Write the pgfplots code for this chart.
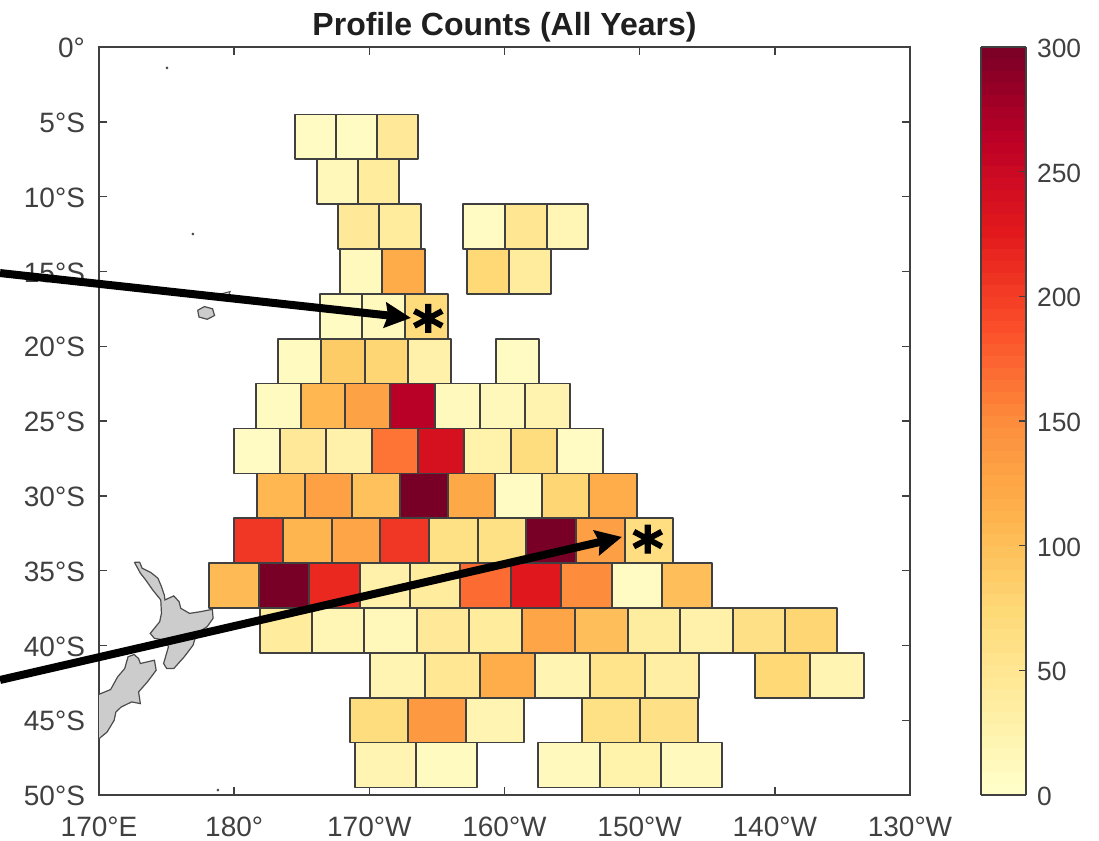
\documentclass[border=0pt]{standalone}
\usepackage{fontspec}
\setmainfont{Liberation Sans}
\newfontfamily\astfont[FakeBold=2]{DejaVu Sans Bold}
\usepackage{pgfplots}
\pgfplotsset{compat=1.18}
\usetikzlibrary{arrows.meta}
\definecolor{axgray}{HTML}{404040}
\pgfplotsset{/pgf/number format/assume math mode=true}
\pgfplotsset{cell/.style={patch,patch type=rectangle,shader=faceted,faceted color=black!75,line width=0.8pt,point meta=explicit,forget plot}}
\newcommand\R[5]{\addplot[cell] coordinates {(#1,#3)[#5] (#2,#3)[#5] (#2,#4)[#5] (#1,#4)[#5]};}
\begin{document}
\begin{tikzpicture}
\useasboundingbox (-49.5pt,-23pt) rectangle (500pt,397.5pt);
\begin{axis}[
  at={(0,0)},anchor=south west,
  scale only axis,width=405.5pt,height=374pt,
  xmin=170,xmax=230,ymin=-50,ymax=0,
  clip=false,
  axis line style={axgray,line width=0.8pt},
  tick align=inside,
  major tick length=4pt,
  tick style={axgray,line width=0.7pt},
  xtick={170,180,190,200,210,220,230},
  xticklabels={170°E,180°,170°W,160°W,150°W,140°W,130°W},
  ytick={0,-5,-10,-15,-20,-25,-30,-35,-40,-45,-50},
  yticklabels={0°,5°S,10°S,15°S,20°S,25°S,30°S,35°S,40°S,45°S,50°S},
  tick label style={font=\fontsize{14}{16}\selectfont,text=axgray},
  xticklabel style={yshift=-7.5pt},
  yticklabel style={xshift=-3.5pt,yshift=-0.5pt},
  title={\bfseries Profile Counts (All Years)},
  title style={font=\fontsize{16}{18}\selectfont,text=black!88,yshift=-7pt},
  point meta min=0,point meta max=300,
  colormap={ylorrd}{
    rgb255=(255,255,204) rgb255=(255,237,160) rgb255=(254,217,118) rgb255=(254,178,76) rgb255=(253,141,60) rgb255=(252,78,42) rgb255=(227,26,28) rgb255=(189,0,38) rgb255=(120,0,38)
  },
  colorbar sampled,
  colorbar style={
    samples=64,
    at={(parent axis.north east)},anchor=north west,xshift=27pt,
    scale only axis,
    width=22.5pt,
    ytick={0,50,100,150,200,250,300},
    ytick pos=right,
    yticklabel pos=right,
    axis line style={axgray,line width=0.8pt},
    tick align=inside,major tick length=3.5pt,
    tick style={axgray,line width=0.7pt},
    yticklabel style={font=\fontsize{13.2}{16}\selectfont,text=axgray,xshift=2pt,yshift=-0.7pt},
  },
]
% land
\addplot[fill=black!20,draw=black!70,line width=0.6pt,forget plot] coordinates {(172.62,-34.44)(173.01,-34.44)(173.19,-34.84)(173.84,-35.13)(174.36,-35.51)(174.62,-36.07)(174.83,-36.63)(174.88,-36.96)(175.53,-36.69)(175.92,-37.07)(176.05,-37.52)(176.70,-37.86)(177.48,-37.75)(178.39,-37.59)(178.44,-38.19)(178.0,-38.75)(177.22,-39.20)(176.96,-39.98)(176.31,-40.76)(175.53,-41.55)(175.01,-41.55)(174.78,-41.21)(175.14,-40.09)(174.88,-39.65)(174.10,-39.53)(173.79,-39.20)(174.49,-38.42)(174.62,-37.86)(174.57,-36.96)(173.97,-36.29)(173.45,-35.62)(173.06,-35.17)(172.62,-34.44)};
\addplot[fill=black!20,draw=black!70,line width=0.6pt,forget plot] coordinates {(170,-43.27)(170.86,-42.95)(171.38,-42.10)(171.90,-41.55)(172.15,-40.76)(172.60,-40.61)(172.93,-40.88)(173.06,-41.21)(173.58,-41.10)(174.10,-40.99)(174.23,-41.66)(173.58,-42.44)(172.93,-43.11)(173.06,-43.89)(172.41,-43.78)(171.64,-44.12)(171.25,-44.45)(171.12,-45.01)(170.60,-45.79)(170,-46.24)};
\addplot[fill=black!20,draw=black!70,line width=0.6pt,forget plot] coordinates {(177.3,-17.6)(177.8,-17.35)(178.4,-17.5)(178.55,-17.95)(178.0,-18.2)(177.4,-18.05)(177.3,-17.6)};
\addplot[draw=black!70,line width=0.5pt,forget plot] coordinates {(178.6,-16.6)(179.7,-16.35)(179.6,-16.55)};
\addplot[only marks,mark=*,mark size=0.45pt,black!70,forget plot] coordinates {(175.03,-1.4)(176.95,-12.5)(178.8,-49.67)};
% cells: lon0 lon1 lat0 lat1 count
\R{184.50}{187.53}{-4.5}{-7.5}{8}\R{187.53}{190.57}{-4.5}{-7.5}{8}\R{190.57}{193.60}{-4.5}{-7.5}{45}
\R{186.13}{189.16}{-7.5}{-10.5}{15}\R{189.16}{192.19}{-7.5}{-10.5}{40}
\R{187.68}{190.71}{-10.5}{-13.5}{45}\R{190.71}{193.82}{-10.5}{-13.5}{40}
\R{196.93}{200.04}{-10.5}{-13.5}{8}\R{200.04}{203.14}{-10.5}{-13.5}{50}\R{203.14}{206.18}{-10.5}{-13.5}{20}
\R{187.83}{190.94}{-13.5}{-16.5}{12}\R{190.94}{194.12}{-13.5}{-16.5}{120}
\R{197.23}{200.33}{-13.5}{-16.5}{75}\R{200.33}{203.44}{-13.5}{-16.5}{40}
\R{186.35}{189.46}{-16.5}{-19.5}{8}\R{189.46}{192.64}{-16.5}{-19.5}{12}\R{192.64}{195.82}{-16.5}{-19.5}{70}
\R{183.24}{186.42}{-19.5}{-22.5}{10}\R{186.42}{189.68}{-19.5}{-22.5}{88}\R{189.68}{192.86}{-19.5}{-22.5}{78}\R{192.86}{196.04}{-19.5}{-22.5}{30}
\R{199.37}{202.55}{-19.5}{-22.5}{8}
\R{181.61}{184.94}{-22.5}{-25.5}{10}\R{184.94}{188.20}{-22.5}{-25.5}{108}\R{188.20}{191.53}{-22.5}{-25.5}{128}\R{191.53}{194.86}{-22.5}{-25.5}{265}\R{194.86}{198.19}{-22.5}{-25.5}{12}\R{198.19}{201.52}{-22.5}{-25.5}{15}\R{201.52}{204.85}{-22.5}{-25.5}{25}
\R{179.99}{183.39}{-25.5}{-28.5}{8}\R{183.39}{186.79}{-25.5}{-28.5}{45}\R{186.79}{190.20}{-25.5}{-28.5}{30}\R{190.20}{193.60}{-25.5}{-28.5}{165}\R{193.60}{197.00}{-25.5}{-28.5}{238}\R{197.00}{200.48}{-25.5}{-28.5}{28}\R{200.48}{203.88}{-25.5}{-28.5}{68}\R{203.88}{207.29}{-25.5}{-28.5}{8}
\R{181.69}{185.24}{-28.5}{-31.5}{108}\R{185.24}{188.72}{-28.5}{-31.5}{130}\R{188.72}{192.27}{-28.5}{-31.5}{98}\R{192.27}{195.82}{-28.5}{-31.5}{300}\R{195.82}{199.30}{-28.5}{-31.5}{122}\R{199.30}{202.77}{-28.5}{-31.5}{8}\R{202.77}{206.25}{-28.5}{-31.5}{78}\R{206.25}{209.80}{-28.5}{-31.5}{118}
\R{179.99}{183.61}{-31.5}{-34.5}{205}\R{183.61}{187.24}{-31.5}{-34.5}{110}\R{187.24}{190.79}{-31.5}{-34.5}{125}\R{190.79}{194.41}{-31.5}{-34.5}{205}\R{194.41}{198.04}{-31.5}{-34.5}{62}\R{198.04}{201.59}{-31.5}{-34.5}{62}\R{201.59}{205.29}{-31.5}{-34.5}{300}\R{205.29}{208.91}{-31.5}{-34.5}{132}\R{208.91}{212.46}{-31.5}{-34.5}{65}
\R{178.14}{181.84}{-34.5}{-37.5}{105}\R{181.84}{185.54}{-34.5}{-37.5}{300}\R{185.54}{189.31}{-34.5}{-37.5}{215}\R{189.31}{193.01}{-34.5}{-37.5}{30}\R{193.01}{196.71}{-34.5}{-37.5}{40}\R{196.71}{200.48}{-34.5}{-37.5}{170}\R{200.48}{204.18}{-34.5}{-37.5}{228}\R{204.18}{207.95}{-34.5}{-37.5}{150}\R{207.95}{211.65}{-34.5}{-37.5}{8}\R{211.65}{215.35}{-34.5}{-37.5}{100}
\R{181.91}{185.76}{-37.5}{-40.5}{40}\R{185.76}{189.60}{-37.5}{-40.5}{20}\R{189.60}{193.53}{-37.5}{-40.5}{15}\R{193.53}{197.37}{-37.5}{-40.5}{45}\R{197.37}{201.29}{-37.5}{-40.5}{40}\R{201.29}{205.21}{-37.5}{-40.5}{125}\R{205.21}{209.14}{-37.5}{-40.5}{100}\R{209.14}{212.98}{-37.5}{-40.5}{38}\R{212.98}{216.90}{-37.5}{-40.5}{30}\R{216.90}{220.75}{-37.5}{-40.5}{60}\R{220.75}{224.60}{-37.5}{-40.5}{78}
\R{190.05}{194.12}{-40.5}{-43.5}{22}\R{194.12}{198.19}{-40.5}{-43.5}{48}\R{198.19}{202.25}{-40.5}{-43.5}{118}\R{202.25}{206.32}{-40.5}{-43.5}{22}\R{206.32}{210.39}{-40.5}{-43.5}{55}\R{210.39}{214.39}{-40.5}{-43.5}{35}
\R{218.53}{222.60}{-40.5}{-43.5}{75}\R{222.60}{226.59}{-40.5}{-43.5}{22}
\R{188.57}{192.86}{-43.5}{-46.5}{68}\R{192.86}{197.15}{-43.5}{-46.5}{138}\R{197.15}{201.44}{-43.5}{-46.5}{22}
\R{205.73}{210.02}{-43.5}{-46.5}{62}\R{210.02}{214.31}{-43.5}{-46.5}{60}
\R{188.94}{193.45}{-46.5}{-49.5}{22}\R{193.45}{197.96}{-46.5}{-49.5}{10}
\R{202.48}{207.06}{-46.5}{-49.5}{12}\R{207.06}{211.58}{-46.5}{-49.5}{28}\R{211.58}{216.09}{-46.5}{-49.5}{12}
% annotation arrows
\addplot[black,line width=4pt,-{Stealth[length=13pt,width=12.5pt,inset=1.5pt]},forget plot] coordinates {(162.68,-15.11)(193.08,-18.11)};
\addplot[black,line width=4pt,-{Stealth[length=13pt,width=12.5pt,inset=1.5pt]},forget plot] coordinates {(162.68,-42.31)(208.69,-32.75)};
\node[font=\astfont\fontsize{30}{30}\selectfont,inner sep=0pt] at (axis cs:194.36,-18.7) {*};
\node[font=\astfont\fontsize{30}{30}\selectfont,inner sep=0pt] at (axis cs:210.6,-33.45) {*};
\end{axis}
\end{tikzpicture}
\end{document}
